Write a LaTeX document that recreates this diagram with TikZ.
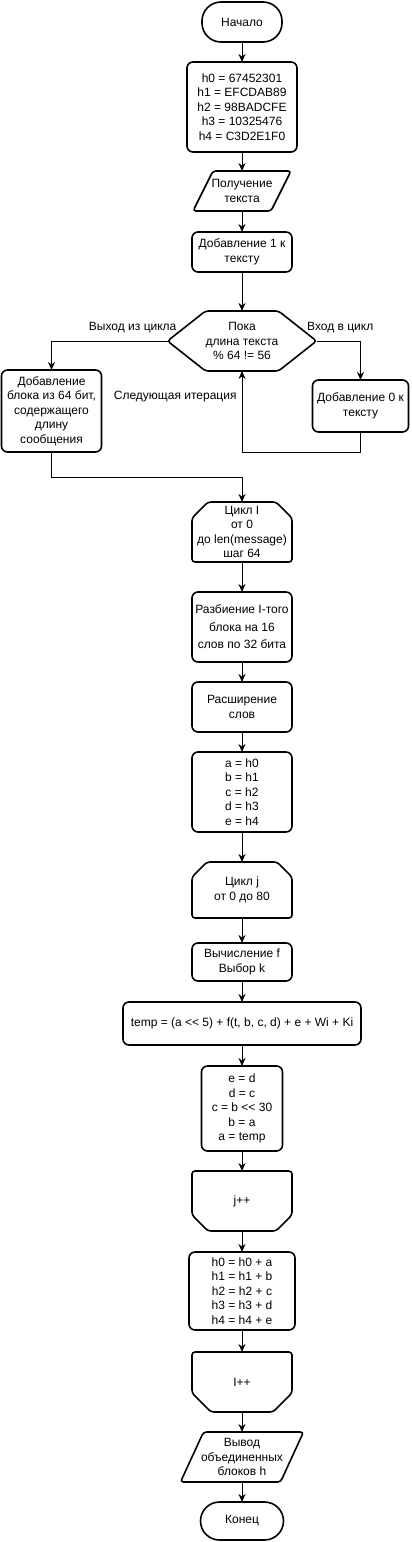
\documentclass[tikz,border=0pt]{standalone}
\usepackage{fontspec}
\setmainfont{Liberation Sans}
\usepackage{xcolor}
\usetikzlibrary{positioning,arrows.meta}
\definecolor{flowink}{HTML}{000000}
\tikzset{
  blk/.style      ={align=center,inner sep=2pt,outer sep=0pt,font=\fontsize{12}{14.4}\selectfont,text=flowink},
  outline/.style  ={draw=flowink,line width=1.6pt,rounded corners=3pt},
  box/.style      ={blk,draw=flowink,line width=1.6pt,rounded corners=6pt,minimum width=100pt},
  term/.style     ={blk,draw=flowink,line width=1.6pt,rounded corners=19pt,minimum width=80pt,minimum height=38pt},
  io/.style       ={blk,minimum width=78pt,minimum height=40pt,
                    append after command={\pgfextra{\draw[outline]
                      ([xshift=#1]\tikzlastnode.north west) -- ([xshift=#1]\tikzlastnode.north east)
                      -- ([xshift=-#1]\tikzlastnode.south east) -- ([xshift=-#1]\tikzlastnode.south west) -- cycle;}}},
  decision/.style ={blk,minimum width=149pt,minimum height=60pt,
                    append after command={\pgfextra{\draw[outline]
                      (\tikzlastnode.west) -- ([xshift=#1]\tikzlastnode.north west) -- ([xshift=-#1]\tikzlastnode.north east)
                      -- (\tikzlastnode.east) -- ([xshift=-#1]\tikzlastnode.south east) -- ([xshift=#1]\tikzlastnode.south west) -- cycle;}}},
  loopopen/.style ={blk,minimum width=100pt,minimum height=60pt,
                    append after command={\pgfextra{\draw[outline]
                      ([xshift=#1]\tikzlastnode.north west) -- ([xshift=-#1]\tikzlastnode.north east)
                      -- ([yshift=-#1]\tikzlastnode.north east) -- (\tikzlastnode.south east)
                      -- (\tikzlastnode.south west) -- ([yshift=-#1]\tikzlastnode.north west) -- cycle;}}},
  loopclose/.style={blk,minimum width=100pt,minimum height=60pt,
                    append after command={\pgfextra{\draw[outline]
                      (\tikzlastnode.north west) -- (\tikzlastnode.north east)
                      -- ([yshift=#1]\tikzlastnode.south east) -- ([xshift=-#1]\tikzlastnode.south east)
                      -- ([xshift=#1]\tikzlastnode.south west) -- ([yshift=#1]\tikzlastnode.south west) -- cycle;}}},
  arr/.style      ={-{Stealth[length=8pt,width=7pt]},line width=1pt,draw=flowink},
  lbl/.style      ={inner sep=0pt,font=\fontsize{12}{14.4}\selectfont,text=flowink},
}
\begin{document}
\begin{tikzpicture}[x=1pt,y=1pt]
  \useasboundingbox (0,0) rectangle (412,-1542);
  \node[term, minimum height=40pt] (start) at (242,-22) {Начало};
  \node[box, below=20pt of start, minimum width=110pt, minimum height=90pt] (init) {h0 = 67452301\\h1 = EFCDAB89\\h2 = 98BADCFE\\h3 = 10325476\\h4 = C3D2E1F0};
  \node[io=10pt, below=19pt of init] (read) {Получение\\текста};
  \node[box, below=21pt of read, minimum height=40pt] (padone) {Добавление 1 к\\тексту};
  \node[decision=38pt, below=39pt of padone] (check) {Пока\\длина текста\\\% 64 != 56};
  \node[box, below left=29pt and 66pt of check.west, minimum height=82pt] (padlen) {Добавление\\блока из 64 бит,\\содержащего\\длину\\сообщения};
  \node[box, below right=39pt and -4pt of check.east, minimum width=96pt, minimum height=52pt] (padzero) {Добавление 0 к\\тексту};
  \coordinate[below=20pt of padzero.south] (back);

  \node[loopopen=16pt, below=131pt of check] (loopi) {Цикл I\\от 0\\до len(message)\\шаг 64};
  \coordinate[above=25pt of loopi.north] (merge);
  \node[box, below=30pt of loopi, minimum height=70pt] (split) {Разбиение I-того\\[3pt]блока на 16\\[3pt]слов по 32 бита};
  \node[box, below=20pt of split, minimum height=50pt] (expand) {Расширение\\слов};
  \node[box, below=20pt of expand, minimum height=80pt] (assign) {a = h0\\b = h1\\c = h2\\d = h3\\e = h4};
  \node[loopopen=15pt, below=30pt of assign, minimum height=56pt] (loopj) {Цикл j\\от 0 до 80};
  \node[box, below=25pt of loopj, minimum height=38pt] (calcf) {Вычисление f\\Выбор k};
  \node[box, below=21pt of calcf, minimum width=238pt, minimum height=43pt] (temp) {temp = (a <{}< 5) + f(t, b, c, d) + e + Wi + Ki};
  \node[box, below=21pt of temp, minimum width=81pt, minimum height=85pt] (shift) {e = d\\d = c\\c = b <{}< 30\\b = a\\a = temp};
  \node[loopclose=16pt, below=20pt of shift] (endj) {j++};
  \node[box, below=21pt of endj, minimum width=106pt, minimum height=78pt] (update) {h0 = h0 + a\\h1 = h1 + b\\h2 = h2 + c\\h3 = h3 + d\\h4 = h4 + e};
  \node[loopclose=19pt, below=22pt of update] (endi) {I++};
  \node[io=11.5pt, below=20pt of endi, minimum width=100pt, minimum height=50pt] (write) {Вывод\\объединенных\\блоков h};
  \node[term, below=20pt of write, minimum width=83pt] (stop) {Конец};

  \draw[arr] (start) -- (init);
  \draw[arr] (init) -- (read);
  \draw[arr] (read) -- (padone);
  \draw[arr] (padone) -- (check);
  \draw[arr] (check.west) -| node[lbl, pos=0.15, above=8pt]{Выход из цикла} (padlen.north);
  \draw[arr] (check.east) -| node[lbl, pos=0.27, above=8pt]{Вход в цикл} (padzero.north);
  \draw[arr] (padzero.south) -- (back) -| node[lbl, pos=0.84, left=5pt]{Следующая итерация} (check.south);
  \draw[arr] (padlen.south) |- (merge) -- (loopi.north);
  \draw[arr] (loopi) -- (split);
  \draw[arr] (split) -- (expand);
  \draw[arr] (expand) -- (assign);
  \draw[arr] (assign) -- (loopj);
  \draw[arr] (loopj) -- (calcf);
  \draw[arr] (calcf) -- (temp);
  \draw[arr] (temp) -- (shift);
  \draw[arr] (shift) -- (endj);
  \draw[arr] (endj) -- (update);
  \draw[arr] (update) -- (endi);
  \draw[arr] (endi) -- (write);
  \draw[arr] (write) -- (stop);
\end{tikzpicture}
\end{document}
